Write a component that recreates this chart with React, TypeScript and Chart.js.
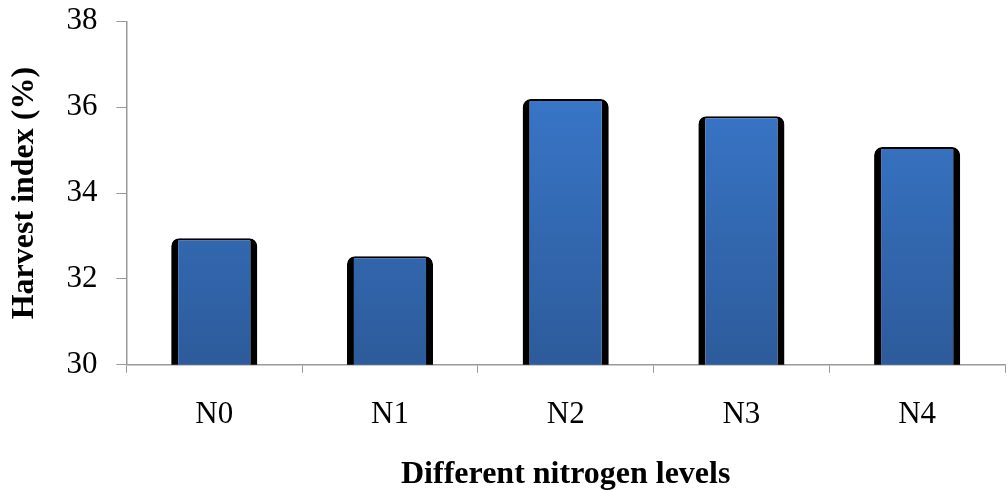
import React, { useEffect, useRef } from "react";
import { Chart, registerables } from "chart.js";

Chart.register(...registerables);

const categories = ["N0", "N1", "N2", "N3", "N4"];
const harvestIndex = [32.95, 32.53, 36.19, 35.79, 35.07];
const yTicks = [30, 32, 34, 36, 38];

export default function App() {
  const ref = useRef<HTMLCanvasElement | null>(null);
  useEffect(() => {
    const ctx = ref.current!.getContext("2d")!;
    const font = "'Liberation Serif', 'Times New Roman', serif";
    const chart = new Chart(ctx, {
      type: "bar",
      data: {
        labels: categories,
        datasets: [
          {
            data: harvestIndex,
            backgroundColor: (c: any) => {
              const area = c.chart.chartArea;
              if (!area) return "#3572c0";
              const g = c.chart.ctx.createLinearGradient(0, area.top, 0, area.bottom);
              g.addColorStop(0, "#3b7dd3");
              g.addColorStop(1, "#2d5b9b");
              return g;
            },
            borderColor: "#000000",
            borderWidth: { left: 7, right: 7, top: 2, bottom: 0 },
            borderSkipped: "bottom",
            borderRadius: { topLeft: 8, topRight: 8, bottomLeft: 0, bottomRight: 0 },
            barPercentage: 0.49,
            categoryPercentage: 1,
          },
        ],
      },
      options: {
        responsive: false,
        animation: false,
        layout: { autoPadding: false, padding: { top: 21, right: 3, left: 6, bottom: 0 } },
        plugins: { legend: { display: false }, tooltip: { enabled: false } },
        scales: {
          x: {
            grid: {
              display: true,
              drawOnChartArea: false,
              drawTicks: true,
              tickLength: 8,
              color: "#9a9a9a",
              offset: true,
            },
            border: { color: "#9a9a9a", width: 1.5 },
            ticks: { color: "#000", font: { family: font, size: 31 }, padding: 23 },
            title: {
              display: true,
              text: "Different nitrogen levels",
              color: "#000",
              font: { family: font, size: 32, weight: "bold", lineHeight: 1.0 },
              padding: { top: 3, bottom: 0 },
            },
          },
          y: {
            min: 30,
            max: 38,
            afterBuildTicks: (axis: any) => {
              axis.ticks = yTicks.map((v) => ({ value: v }));
            },
            grid: {
              display: true,
              drawOnChartArea: false,
              drawTicks: true,
              tickLength: 10,
              color: "#9a9a9a",
            },
            border: { color: "#9a9a9a", width: 1.5 },
            ticks: { color: "#000", font: { family: font, size: 31, lineHeight: 0.15 }, padding: 19 },
            title: {
              display: true,
              text: "Harvest index (%)",
              color: "#000",
              font: { family: font, size: 32, weight: "bold" },
              padding: { top: 0, bottom: 3 },
            },
          },
        },
      },
    } as any);
    return () => chart.destroy();
  }, []);
  return (
    <div style={{ position: "fixed", left: 0, top: 0, width: 1008, height: 491, background: "#fff" }}>
      <canvas ref={ref} width={1008} height={491} />
    </div>
  );
}
